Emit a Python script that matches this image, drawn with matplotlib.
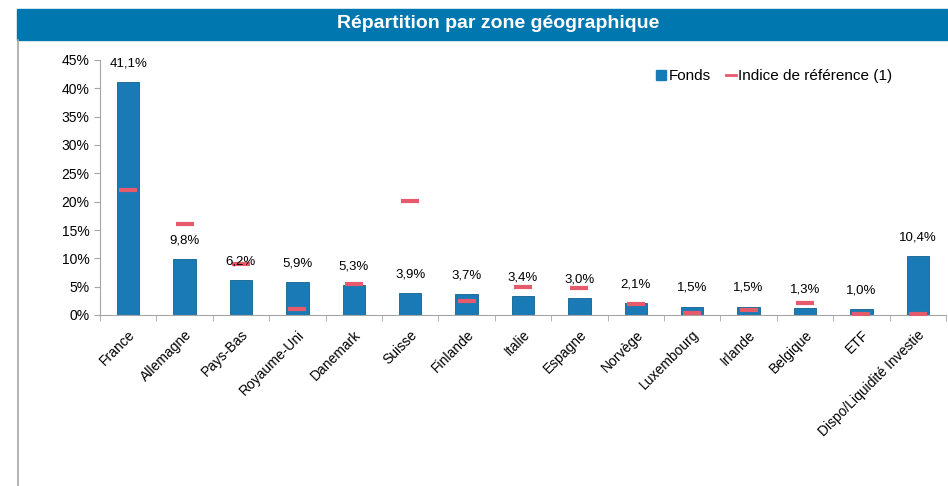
import matplotlib.pyplot as plt
import matplotlib.patches as patches
from matplotlib.lines import Line2D
import numpy as np

plt.rcParams["font.family"] = ["Liberation Sans", "DejaVu Sans"]

zones = ["France", "Allemagne", "Pays-Bas", "Royaume-Uni", "Danemark", "Suisse",
         "Finlande", "Italie", "Espagne", "Norvège", "Luxembourg", "Irlande",
         "Belgique", "ETF", "Dispo/Liquidité Investie"]
fonds = [41.1, 9.8, 6.2, 5.9, 5.3, 3.9, 3.7, 3.4, 3.0, 2.1, 1.5, 1.5, 1.3, 1.0, 10.4]
indice = [22.0, 16.1, 9.0, 1.0, 5.4, 20.1, 2.4, 4.9, 4.8, 1.9, 0.3, 0.8, 2.2, 0.2, 0.2]

BAR_COLOR = "#1a7ab5"
REF_COLOR = "#e65a6c"

fig = plt.figure(figsize=(9.48, 4.86), dpi=100)

# title banner and left border
fig.patches.append(patches.Rectangle((17 / 948, 1 - 40 / 486), 1, 31 / 486,
                                     transform=fig.transFigure, color="#0077ae", zorder=0))
fig.text(0.525, 1 - 24 / 486, "Répartition par zone géographique", color="white",
         fontsize=14, fontweight="bold", ha="center", va="center")
fig.add_artist(Line2D([17.5 / 948, 17.5 / 948], [0, 1 - 40 / 486], transform=fig.transFigure,
                      color="#a6a6a6", lw=1.2))

ax = fig.add_axes([100 / 948, 1 - 315 / 486, 846 / 948, 255 / 486])
x = np.arange(len(zones))

ax.bar(x, fonds, width=0.4, color=BAR_COLOR, edgecolor="#12608f", linewidth=0.6,
       label="Fonds", zorder=2)
ax.plot(x, indice, linestyle="none", marker="_", markersize=13, markeredgewidth=3,
        color=REF_COLOR, label="Indice de référence (1)", zorder=3)

for xi, v in zip(x, fonds):
    ax.annotate(f"{v:.1f}%".replace(".", ","), (xi, v), xytext=(0, 9),
                textcoords="offset points", ha="center", va="bottom", fontsize=9.5)

ax.set_xlim(-0.5, len(zones) - 0.5)
ax.set_ylim(0, 45)
ax.set_yticks(np.arange(0, 46, 5))
ax.set_yticklabels([f"{t}%" for t in range(0, 46, 5)], fontsize=10)
ax.set_xticks(x)
ax.set_xticklabels(zones, rotation=45, ha="right", rotation_mode="anchor", fontsize=10)
ax.set_xticks(np.arange(-0.5, len(zones), 1), minor=True)
ax.tick_params(axis="x", which="major", length=0, pad=9)
ax.tick_params(axis="x", which="minor", length=4, color="#a6a6a6")
ax.tick_params(axis="y", length=4, color="#a6a6a6")
for s in ["top", "right"]:
    ax.spines[s].set_visible(False)
for s in ["left", "bottom"]:
    ax.spines[s].set_color("#a6a6a6")

handles = [Line2D([], [], marker="s", linestyle="none", markersize=6.5, color=BAR_COLOR),
           Line2D([], [], color=REF_COLOR, lw=2)]
ax.legend(handles, ["Fonds", "Indice de référence (1)"], loc="center right", ncol=2,
          frameon=False, fontsize=11, bbox_to_anchor=(892 / 948, 1 - 76 / 486),
          bbox_transform=fig.transFigure, borderpad=0, borderaxespad=0,
          handlelength=0.7, handletextpad=0.1, columnspacing=1.0)

fig.savefig("out.png", dpi=100)
